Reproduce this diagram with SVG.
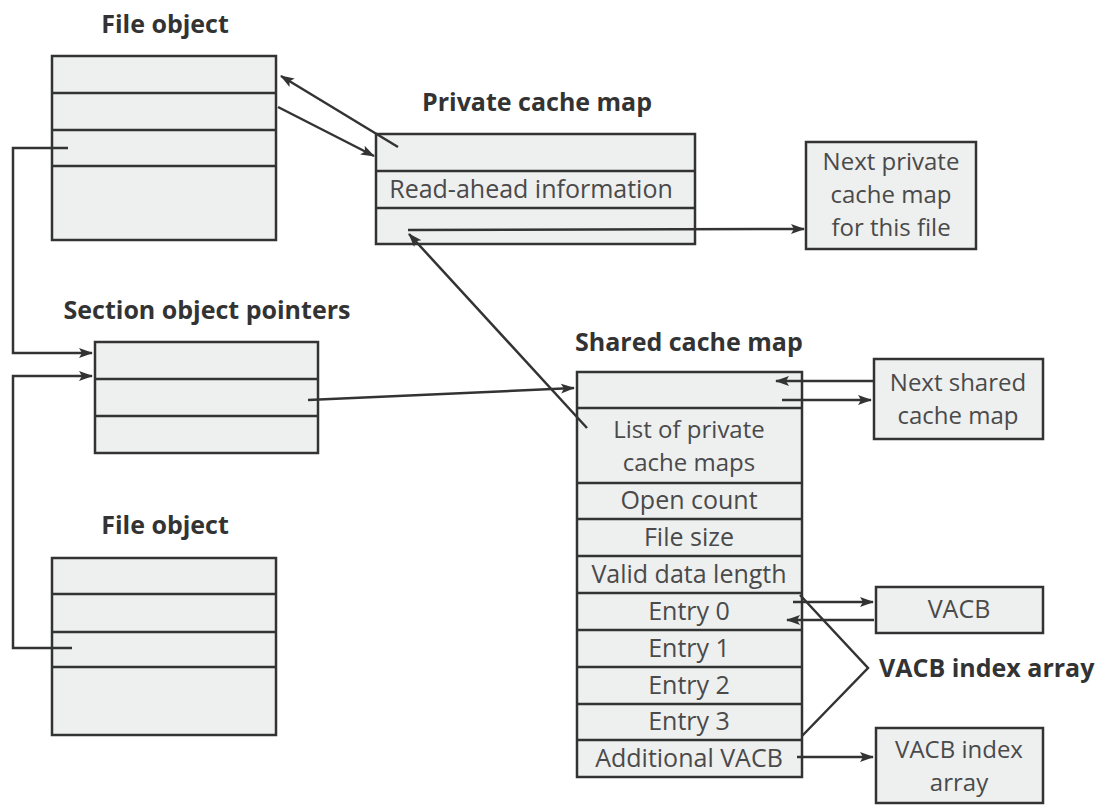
<svg xmlns="http://www.w3.org/2000/svg" width="1105" height="805" viewBox="0 0 1105 805">
<style>
.box{fill:#eeefef;stroke:#333;stroke-width:2.5}
.ln{stroke:#333;stroke-width:2.5;fill:none}
.t{font-family:"Open Sans","Noto Sans",sans-serif;font-size:25px;fill:#4a4a4a;text-anchor:middle}
.t2{font-size:24px}
.h{font-family:"Open Sans","Noto Sans",sans-serif;font-size:25px;font-weight:bold;fill:#333;text-anchor:middle}
.c{stroke:#333;stroke-width:2.5;fill:none}
.a{marker-end:url(#arr)}
</style>
<defs>
<marker id="arr" markerUnits="userSpaceOnUse" markerWidth="14" markerHeight="12" viewBox="0 0 14 12" refX="13" refY="6" orient="auto">
<path d="M0,1 L14,6 L0,11 L3,6 Z" fill="#333"/>
</marker>
</defs>
<rect width="1105" height="805" fill="#fff"/>

<g id="file-object-top">
<text class="h" x="165" y="33">File object</text>
<rect class="box" x="52" y="56" width="224" height="184"/>
<line class="ln" x1="52" y1="93" x2="276" y2="93"/>
<line class="ln" x1="52" y1="130" x2="276" y2="130"/>
<line class="ln" x1="52" y1="166" x2="276" y2="166"/>
</g>

<g id="private-cache-map">
<text class="h" x="537" y="111">Private cache map</text>
<rect class="box" x="376" y="134" width="319" height="110"/>
<line class="ln" x1="376" y1="171" x2="695" y2="171"/>
<line class="ln" x1="376" y1="208" x2="695" y2="208"/>
<text class="t" x="531" y="198">Read-ahead information</text>
</g>

<g id="next-private-cache-map">
<rect class="box" x="806" y="142" width="170" height="107"/>
<text class="t t2" x="891" y="170"><tspan x="891" y="170">Next private</tspan><tspan x="891" y="203">cache map</tspan><tspan x="891" y="236">for this file</tspan></text>
</g>

<g id="section-object-pointers">
<text class="h" x="207" y="319">Section object pointers</text>
<rect class="box" x="95" y="342" width="223" height="111"/>
<line class="ln" x1="95" y1="379" x2="318" y2="379"/>
<line class="ln" x1="95" y1="416" x2="318" y2="416"/>
</g>

<g id="shared-cache-map">
<text class="h" x="575" y="351" style="text-anchor:start">Shared cache map</text>
<rect class="box" x="577" y="372" width="225" height="405"/>
<line class="ln" x1="577" y1="408" x2="802" y2="408"/>
<line class="ln" x1="577" y1="483" x2="802" y2="483"/>
<line class="ln" x1="577" y1="519" x2="802" y2="519"/>
<line class="ln" x1="577" y1="556" x2="802" y2="556"/>
<line class="ln" x1="577" y1="593" x2="802" y2="593"/>
<line class="ln" x1="577" y1="630" x2="802" y2="630"/>
<line class="ln" x1="577" y1="667" x2="802" y2="667"/>
<line class="ln" x1="577" y1="704" x2="802" y2="704"/>
<line class="ln" x1="577" y1="740" x2="802" y2="740"/>
<text class="t t2" x="689" y="438"><tspan x="689" y="438">List of private</tspan><tspan x="689" y="471">cache maps</tspan></text>
<text class="t" x="689" y="509">Open count</text>
<text class="t" x="689" y="546">File size</text>
<text class="t" x="689" y="583">Valid data length</text>
<text class="t" x="689" y="620">Entry 0</text>
<text class="t" x="689" y="657">Entry 1</text>
<text class="t" x="689" y="694">Entry 2</text>
<text class="t" x="689" y="730">Entry 3</text>
<text class="t" x="689" y="767">Additional VACB</text>
</g>

<g id="next-shared-cache-map">
<rect class="box" x="874" y="359" width="169" height="80"/>
<text class="t t2" x="958" y="391"><tspan x="958" y="391">Next shared</tspan><tspan x="958" y="424">cache map</tspan></text>
</g>

<g id="vacb">
<rect class="box" x="876" y="587" width="167" height="46"/>
<text class="t" x="959" y="618">VACB</text>
</g>

<g id="vacb-index-array-box">
<rect class="box" x="876" y="728" width="167" height="75"/>
<text class="t t2" x="959" y="758"><tspan x="959" y="758">VACB index</tspan><tspan x="959" y="791">array</tspan></text>
</g>

<g id="file-object-bottom">
<text class="h" x="165" y="534">File object</text>
<rect class="box" x="52" y="558" width="224" height="177"/>
<line class="ln" x1="52" y1="594" x2="276" y2="594"/>
<line class="ln" x1="52" y1="632" x2="276" y2="632"/>
<line class="ln" x1="52" y1="667" x2="276" y2="667"/>
</g>

<g id="vacb-index-array-label">
<text class="h" x="879" y="677" style="text-anchor:start">VACB index array</text>
</g>

<g id="connectors">
<line class="c a" x1="398" y1="147" x2="281" y2="76"/>
<line class="c a" x1="278" y1="107" x2="374" y2="156"/>
<path class="c a" d="M68,148 H13 V353 H92"/>
<path class="c a" d="M72,648 H13 V376 H92"/>
<line class="c a" x1="308" y1="400" x2="574" y2="388"/>
<line class="c a" x1="408" y1="230" x2="804" y2="229"/>
<line class="c a" x1="587" y1="428" x2="409" y2="234"/>
<line class="c a" x1="873" y1="381" x2="776" y2="381"/>
<line class="c a" x1="782" y1="400" x2="871" y2="400"/>
<line class="c a" x1="793" y1="602" x2="873" y2="602"/>
<line class="c a" x1="874" y1="620" x2="787" y2="620"/>
<line class="c a" x1="797" y1="757" x2="873" y2="757"/>
<polyline class="c" points="800,595 868,668 802,736"/>
</g>
</svg>
